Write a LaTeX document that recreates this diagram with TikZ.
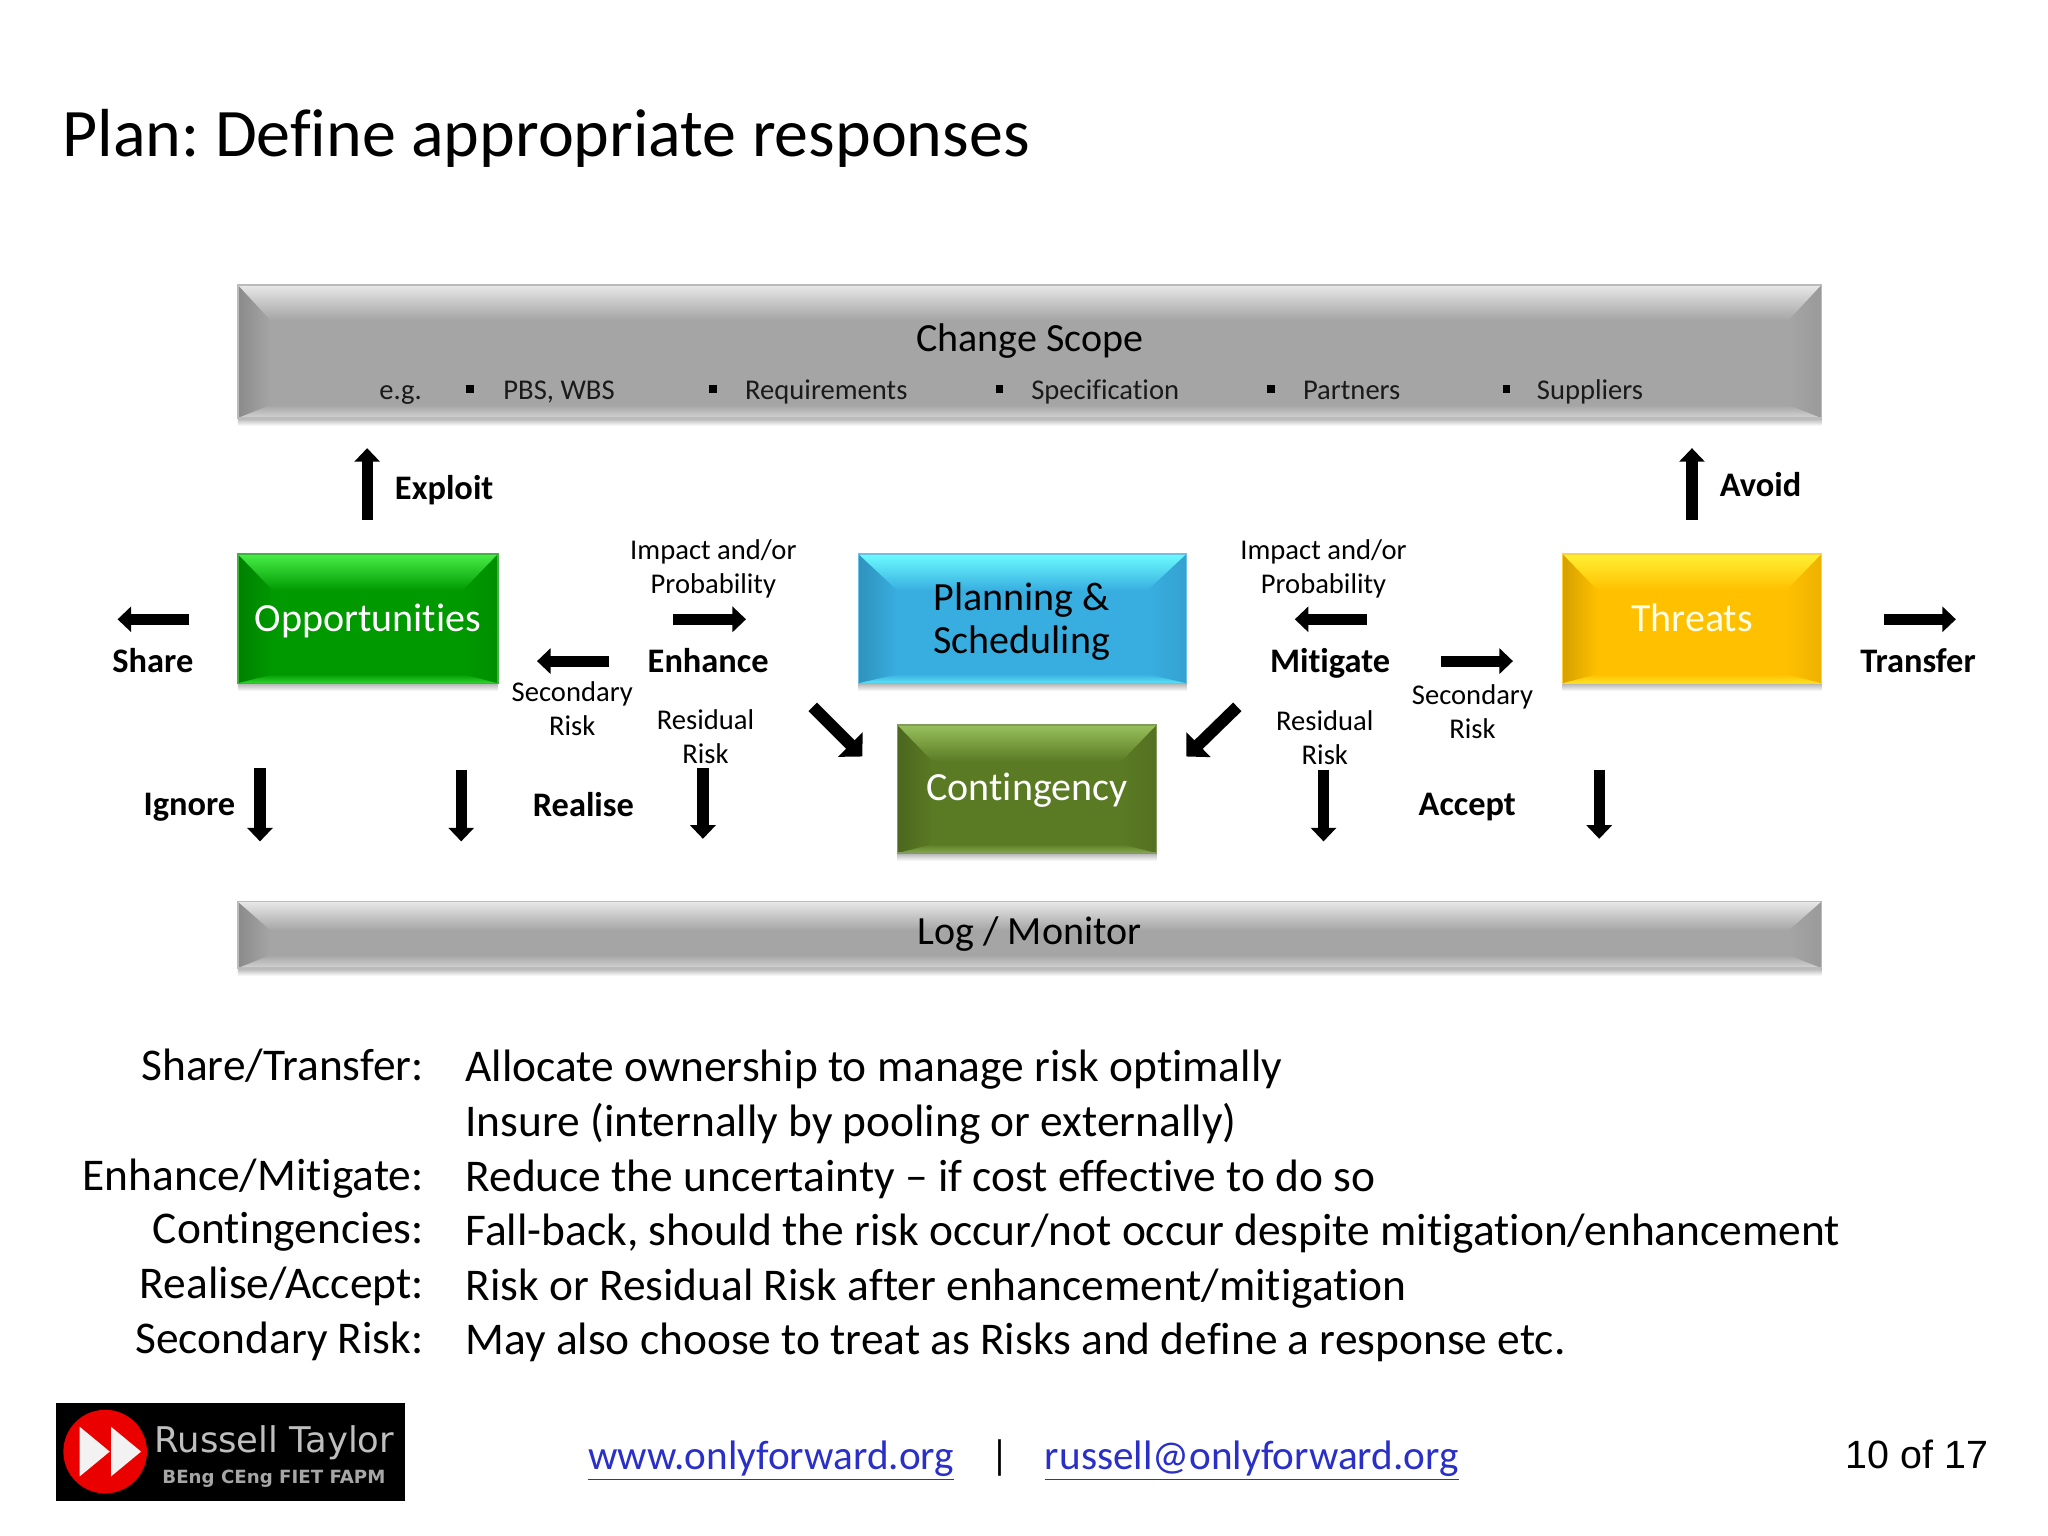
\documentclass[tikz,border=0pt]{standalone}
\usepackage{fontspec}
\setmainfont[Ligatures=NoCommon]{Carlito}
\newfontfamily\arialf{Liberation Sans}
\newfontfamily\logof{DejaVu Sans}
\usetikzlibrary{arrows.meta}
\definecolor{linkblue}{HTML}{2A2FC8}
\definecolor{darktxt}{HTML}{1A1A1A}
\definecolor{gbase}{HTML}{A5A5A5}\definecolor{glight}{HTML}{E8E8E8}
\definecolor{obase}{HTML}{009900}\definecolor{olight}{HTML}{48EE48}
\definecolor{pbase}{HTML}{38AEE0}\definecolor{plight}{HTML}{6CFBFF}
\definecolor{cbase}{HTML}{5A7A24}\definecolor{clight}{HTML}{97C05C}
\definecolor{tbase}{HTML}{FFC000}\definecolor{tlight}{HTML}{FFF033}
\tikzset{
  lbl/.style={inner sep=0pt,anchor=base,align=center,text=black,yshift=-0.65pt},
  lbll/.style={inner sep=0pt,anchor=base west,text=black,yshift=-0.65pt},
  lblr/.style={inner sep=0pt,anchor=base east,text=black,yshift=-0.65pt},
  small/.style={font=\fontsize{14.3}{14.3}\selectfont},
  labb/.style={font=\fontsize{17.2}{17.2}\selectfont\bfseries},
  boxt/.style={font=\fontsize{20}{20}\selectfont},
  bodyt/.style={font=\fontsize{22.7}{22.7}\selectfont},
  blockarrow/.style={line width=5.6pt,draw=black,-{Triangle[length=6.8pt,width=12.5pt]}},
  diagarrow/.style={line width=6pt,draw=black,-{Triangle[length=8.5pt,width=17pt]}},
  bull/.style={fill=black},
}
% x0 y0 x1 y1 topbevel sidebevel botbevel base light
\newcommand\bevelbox[9]{%
  \def\xa{#1}\def\ya{#2}\def\xb{#3}\def\yb{#4}\def\bt{#5}\def\bs{#6}\def\bb{#7}%
  \shade[top color=black!30,bottom color=white] (\xa,\yb) rectangle (\xb,\yb+6);
  \fill[#8] (\xa,\ya) rectangle (\xb,\yb);
  \shade[left color=#8!84!black,right color=#8]
    (\xa,\ya) -- (\xa+\bs,\ya+\bt) -- (\xa+\bs,\yb-\bb) -- (\xa,\yb) -- cycle;
  \shade[right color=#8!93!black,left color=#8]
    (\xb,\ya) -- (\xb-\bs,\ya+\bt) -- (\xb-\bs,\yb-\bb) -- (\xb,\yb) -- cycle;
  \shade[top color=#9,bottom color=#8]
    (\xa,\ya) -- (\xb,\ya) -- (\xb-\bs,\ya+\bt) -- (\xa+\bs,\ya+\bt) -- cycle;
  \shade[top color=#8,bottom color=#9!70!#8]
    (\xa,\yb) -- (\xb,\yb) -- (\xb-\bs,\yb-\bb) -- (\xa+\bs,\yb-\bb) -- cycle;
  \draw[#8!75!white,line width=0.8pt] (\xa,\ya) rectangle (\xb,\yb);
}
\newcommand\blockarr[6][blockarrow]{%
  \coordinate (#2s) at (#3,#4); \coordinate (#2e) at (#5,#6);
  \draw[#1] (#2s) -- (#2e);}
\begin{document}
\frenchspacing
\begin{tikzpicture}[x=0.65327pt,y=-0.65327pt]
\useasboundingbox (0,0) rectangle (1567.5,1175.6);
\fill[white] (0,0) rectangle (1567.5,1175.6);

\node[lbll,font=\fontsize{34}{34}\selectfont] (title) at (47.5,119) {Plan: Define appropriate responses};

% bars
\bevelbox{182}{218}{1394}{320}{27}{25}{10}{gbase}{glight}
\bevelbox{182}{690}{1394}{741}{22}{25}{10}{gbase}{glight}
\node[lbl,boxt] (scope) at (788,268) {Change Scope};
\node[lbl,boxt] (log) at (788,722) {Log / Monitor};

\node[lbll,small,text=darktxt] (eg) at (290,305) {e.g.};
\node[lbll,small,text=darktxt] (pbs) at (385,305) {PBS, WBS};
\node[lbll,small,text=darktxt] (req) at (570,305) {Requirements};
\node[lbll,small,text=darktxt] (spec) at (789,305) {Specification};
\node[lbll,small,text=darktxt] (part) at (997,305) {Partners};
\node[lbll,small,text=darktxt] (supp) at (1176,305) {Suppliers};
\foreach \bx in {360,546,765,973,1153}{\fill[bull] (\bx-3,295) rectangle (\bx+3,301);}

% coloured boxes
\bevelbox{182}{424}{381}{523}{28}{27}{7}{obase}{olight}
\bevelbox{657}{424}{908}{523}{28}{30}{7}{pbase}{plight}
\bevelbox{687}{555}{885}{653}{28}{27}{7}{cbase}{clight}
\bevelbox{1196}{424}{1394}{523}{28}{27}{7}{tbase}{tlight}
\node[lbl,boxt,text=white] (opp) at (281.5,482) {Opportunities};
\node[lbl,boxt,text=white!90!yellow] (threats) at (1295,482) {Threats};
\node[lbl,boxt] (plan1) at (782,466) {Planning \&};
\node[lbl,boxt] (plan2) at (782,499) {Scheduling};
\node[lbl,boxt,text=white] (cont) at (786,612) {Contingency};

% labels
\node[lbll,labb] (exploit) at (302,381) {Exploit};
\node[lbll,labb] (avoid) at (1316,379) {Avoid};
\node[lbl,labb] (share) at (117,514) {Share};
\node[lbl,labb] (transfer) at (1468,514) {Transfer};
\node[lbl,labb] (enhance) at (542,514) {Enhance};
\node[lbl,labb] (mitigate) at (1018,514) {Mitigate};
\node[lbl,labb] (ignore) at (145,623) {Ignore};
\node[lbl,labb] (realise) at (446.5,624) {Realise};
\node[lbl,labb] (accept) at (1123,623) {Accept};

\node[lbl,small] (ip1a) at (546,427) {Impact and/or};
\node[lbl,small] (ip1b) at (546,453) {Probability};
\node[lbl,small] (ip2a) at (1013,427) {Impact and/or};
\node[lbl,small] (ip2b) at (1013,453) {Probability};
\node[lbl,small] (sr1a) at (438,536) {Secondary};
\node[lbl,small] (sr1b) at (438,562) {Risk};
\node[lbl,small] (sr2a) at (1127,538) {Secondary};
\node[lbl,small] (sr2b) at (1127,564) {Risk};
\node[lbl,small] (rr1a) at (540,557) {Residual};
\node[lbl,small] (rr1b) at (540,583) {Risk};
\node[lbl,small] (rr2a) at (1014,558) {Residual};
\node[lbl,small] (rr2b) at (1014,584) {Risk};

% arrows
\blockarr{ax}{281}{398}{281}{343}
\blockarr{av}{1295}{398}{1295}{343}
\blockarr{sh}{145}{474}{90}{474}
\blockarr{tr}{1442}{474}{1497}{474}
\blockarr{en}{515}{474}{571}{474}
\blockarr{sl}{466}{506}{411}{506}
\blockarr{mi}{1046}{474}{991}{474}
\blockarr{sg}{1103}{506}{1158}{506}
\blockarr{ig}{199}{588}{199}{644}
\blockarr{d2}{353}{589}{353}{644}
\blockarr{d3}{538}{588}{538}{642}
\blockarr{d4}{1013}{589}{1013}{644}
\blockarr{d5}{1224}{589}{1224}{642}
\blockarr[diagarrow]{dl}{622}{541}{660}{579}
\blockarr[diagarrow]{dr}{947}{541}{908}{579}

% explanations
\node[lblr,bodyt] (k1) at (324.5,826) {Share/Transfer:};
\node[lblr,bodyt] (k2) at (324.5,910) {Enhance/Mitigate:};
\node[lblr,bodyt] (k3) at (324.5,951) {Contingencies:};
\node[lblr,bodyt] (k4) at (324.5,993) {Realise/Accept:};
\node[lblr,bodyt] (k5) at (324.5,1035) {Secondary Risk:};
\node[lbll,bodyt] (v1) at (356,827) {Allocate ownership to manage risk optimally};
\node[lbll,bodyt] (v2) at (356,869) {Insure (internally by pooling or externally)};
\node[lbll,bodyt] (v3) at (356,911) {Reduce the uncertainty – if cost effective to do so};
\node[lbll,bodyt] (v4) at (356,952.5) {Fall-back, should the risk occur/not occur despite mitigation/enhancement};
\node[lbll,bodyt] (v5) at (356,994) {Risk or Residual Risk after enhancement/mitigation};
\node[lbll,bodyt] (v6) at (356,1036) {May also choose to treat as Risks and define a response etc.};

% logo
\fill[black] (43,1074) rectangle (310,1149);
\fill[red!92!black] (80.5,1111) circle (32);
\fill[white!95!black] (61,1092) -- (84,1111) -- (61,1130) -- cycle;
\fill[white!95!black] (85,1092) -- (108,1111) -- (85,1130) -- cycle;
\node[lbll,text=black!25,font=\logof\fontsize{17.7}{17.7}\selectfont] (rt) at (118,1110.5) {Russell Taylor};
\node[lbll,text=black!35,font=\logof\bfseries\fontsize{9.1}{9.1}\selectfont] (quals) at (124,1134.5) {BEng CEng FIET FAPM};

% footer
\node[lbll,font=\fontsize{20.6}{20.6}\selectfont,text=linkblue] (web) at (450,1124) {\underline{www.onlyforward.org}};
\node[lbl,font=\fontsize{20.6}{20.6}\selectfont] (sep) at (765.5,1124) {|};
\node[lbll,font=\fontsize{20.6}{20.6}\selectfont,text=linkblue] (mail) at (799.5,1124) {\underline{russell@onlyforward.org}};
\node[lblr,font=\arialf\fontsize{19.7}{19.7}\selectfont] (page) at (1522,1123) {10 of 17};
\end{tikzpicture}
\end{document}
